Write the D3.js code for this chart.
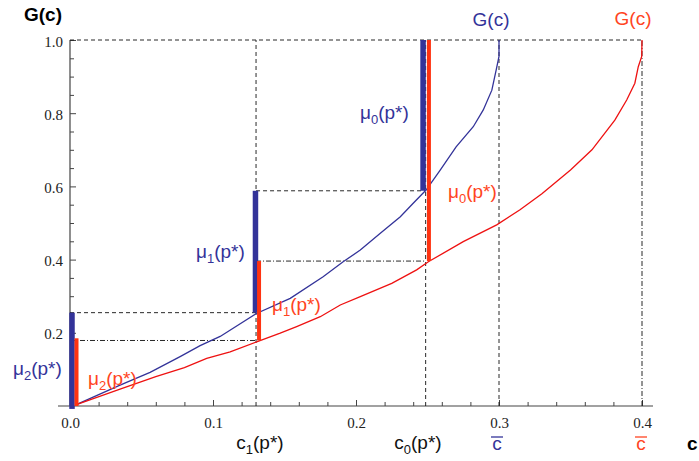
<!DOCTYPE html>
<html>
<head>
<meta charset="utf-8">
<script src="https://cdn.jsdelivr.net/npm/d3@7"></script>
<style>
  body { margin: 0; background: #fff; }
  .lbl { font-family: "Liberation Sans", Arial, sans-serif; font-size: 19px; }
  svg g.ax text { font-family: "Liberation Serif", "Times New Roman", "DejaVu Serif", serif !important; font-size: 15px; }
</style>
</head>
<body>
<script>
var width = 699,
  height = 461;

// axis ticks
var xMajor = [0, 0.1, 0.2, 0.3, 0.4];
var xMinor = [0.02, 0.04, 0.06, 0.08, 0.12, 0.14, 0.16, 0.18, 0.22, 0.24, 0.26, 0.28, 0.32, 0.34, 0.36, 0.38];
var yMajor = [0.2, 0.4, 0.6, 0.8, 1.0];
var yMinor = [0.05, 0.1, 0.15, 0.25, 0.3, 0.35, 0.45, 0.5, 0.55, 0.65, 0.7, 0.75, 0.85, 0.9, 0.95];

// G(c), blue distribution
var blueC = [0.004, 0.035, 0.056, 0.077, 0.091, 0.105, 0.13, 0.154, 0.177, 0.191, 0.203, 0.217, 0.231, 0.240, 0.249, 0.259, 0.270, 0.282, 0.289, 0.295, 0.298, 0.300, 0.300];
var blueG = [0.003, 0.057, 0.092, 0.135, 0.165, 0.19, 0.252, 0.294, 0.353, 0.394, 0.426, 0.472, 0.517, 0.554, 0.59, 0.645, 0.708, 0.763, 0.809, 0.863, 0.918, 0.955, 1.0];

// G(c), red distribution
var redC = [0.004, 0.035, 0.06, 0.08, 0.0956, 0.112, 0.131, 0.147, 0.1585, 0.175, 0.189, 0.203, 0.225, 0.2424, 0.2506, 0.275, 0.2984, 0.3147, 0.33, 0.35, 0.365, 0.381, 0.3893, 0.395, 0.3974, 0.3998, 0.4];
var redG = [0.003, 0.046, 0.08, 0.105, 0.13, 0.148, 0.176, 0.199, 0.217, 0.244, 0.276, 0.299, 0.335, 0.372, 0.394, 0.449, 0.495, 0.536, 0.58, 0.645, 0.70, 0.781, 0.836, 0.882, 0.927, 0.955, 1.0];

// mass bars mu_2, mu_1, mu_0
var blueBarC = [0.0014, 0.1297, 0.2469];
var blueBarLo = [-0.008, 0.255, 0.588];
var blueBarHi = [0.255, 0.588, 1.0];
var redBarC = [0.00455, 0.1322, 0.251];
var redBarLo = [0, 0.179, 0.396];
var redBarHi = [0.185, 0.396, 1.0];

var c1 = 0.1301, c0 = 0.2487, cBarBlue = 0.3, cBarRed = 0.4;

var blue = "#333399", red = "#ee1111", redBar = "#ff3311", redText = "#ff4422";

var x = d3.scaleLinear().domain([0, 0.4]).range([70, 642]);
var y = d3.scaleLinear().domain([0, 1]).range([406, 40]);

var svg = d3.select("body").append("svg")
  .attr("width", width)
  .attr("height", height);

// axes, ticks pointing inward
svg.append("line")
  .attr("x1", x(-0.0084)).attr("x2", x(0.4077))
  .attr("y1", y(0)).attr("y2", y(0))
  .attr("stroke", "#444").attr("stroke-width", 1.2);
svg.append("line")
  .attr("x1", x(0)).attr("x2", x(0))
  .attr("y1", y(0)).attr("y2", y(1))
  .attr("stroke", "#444").attr("stroke-width", 1.2);

var xAxis = svg.append("g").attr("transform", "translate(0," + y(0) + ")")
  .call(d3.axisBottom(x).tickValues(xMajor).tickSize(-6).tickPadding(15).tickFormat(d3.format(".1f")));
var xAxisMinor = svg.append("g").attr("transform", "translate(0," + y(0) + ")")
  .call(d3.axisBottom(x).tickValues(xMinor).tickSize(-4).tickFormat(""));
var yAxis = svg.append("g").attr("transform", "translate(" + x(0) + ",0)")
  .call(d3.axisLeft(y).tickValues(yMajor).tickSize(-6).tickPadding(7).tickFormat(d3.format(".1f")));
var yAxisMinor = svg.append("g").attr("transform", "translate(" + x(0) + ",0)")
  .call(d3.axisLeft(y).tickValues(yMinor).tickSize(-4).tickFormat(""));

[xAxis, xAxisMinor, yAxis, yAxisMinor].forEach(function(a) {
  a.classed("ax", true)
    .attr("font-family", "Liberation Serif")
    .attr("font-size", 15);
  a.select(".domain").remove();
  a.selectAll(".tick line").attr("stroke", "#444").attr("stroke-width", 1);
  a.selectAll(".tick text").attr("fill", "#222");
});
xAxis.selectAll(".tick text").attr("dy", "0.45em");
yAxis.selectAll(".tick text").attr("dy", "0.4em");

// guide lines
var dashed = "4,3", dashDot = "5,2,1,2";
var guides = [
  { x1: 0, y1: 1, x2: 0.4, y2: 1, dash: dashed },
  { x1: cBarBlue, y1: 0, x2: cBarBlue, y2: 1, dash: dashed },
  { x1: cBarRed, y1: 0, x2: cBarRed, y2: 1, dash: dashDot },
  { x1: c1, y1: 0, x2: c1, y2: 1, dash: dashed },
  { x1: c0, y1: 0, x2: c0, y2: 1, dash: dashed },
  { x1: 0, y1: blueBarHi[0], x2: c1, y2: blueBarHi[0], dash: dashed },
  { x1: 0, y1: redBarLo[1], x2: c1, y2: redBarLo[1], dash: dashDot },
  { x1: c1, y1: blueBarHi[1], x2: c0, y2: blueBarHi[1], dash: dashed },
  { x1: c1, y1: redBarHi[1], x2: c0, y2: redBarHi[1], dash: dashDot }
];
svg.append("g").selectAll("line").data(guides).enter().append("line")
  .attr("x1", function(d) { return x(d.x1); })
  .attr("x2", function(d) { return x(d.x2); })
  .attr("y1", function(d) { return y(d.y1); })
  .attr("y2", function(d) { return y(d.y2); })
  .attr("stroke", "#111")
  .attr("stroke-width", 0.9)
  .attr("stroke-dasharray", function(d) { return d.dash; });

// curves
var line = d3.line().x(function(d) { return x(d[0]); }).y(function(d) { return y(d[1]); });
svg.append("path").datum(d3.zip(blueC, blueG))
  .attr("d", line).attr("fill", "none").attr("stroke", blue).attr("stroke-width", 1.3);
svg.append("path").datum(d3.zip(redC, redG))
  .attr("d", line).attr("fill", "none").attr("stroke", red).attr("stroke-width", 1.3);

// bars
function bars(cs, lo, hi, color, w) {
  svg.append("g").selectAll("line").data(d3.range(cs.length)).enter().append("line")
    .attr("x1", function(i) { return x(cs[i]); })
    .attr("x2", function(i) { return x(cs[i]); })
    .attr("y1", function(i) { return y(lo[i]); })
    .attr("y2", function(i) { return y(hi[i]); })
    .attr("stroke", color)
    .attr("stroke-width", w);
}
bars(blueBarC, blueBarLo, blueBarHi, blue, 5.5);
bars(redBarC, redBarLo, redBarHi, redBar, 4);

// labels
function mu(px, py, sub, color) {
  var t = svg.append("text").attr("class", "lbl").attr("x", px).attr("y", py).attr("fill", color);
  t.append("tspan").text("\u03bc");
  t.append("tspan").attr("font-size", "13px").attr("dy", 5).text(sub);
  t.append("tspan").attr("dy", -5).text("(p*)");
}
mu(13, 375, "2", blue);
mu(88, 385, "2", redText);
mu(196, 258, "1", blue);
mu(272, 311, "1", redText);
mu(360, 119, "0", blue);
mu(448, 198, "0", redText);

function cp(cx, sub) {
  var t = svg.append("text").attr("class", "lbl").attr("x", cx).attr("y", 449)
    .attr("text-anchor", "middle").attr("fill", "#111");
  t.append("tspan").text("c");
  t.append("tspan").attr("font-size", "13px").attr("dy", 5).text(sub);
  t.append("tspan").attr("dy", -5).text("(p*)");
}
cp(260, "1");
cp(418, "0");

function cbar(cx, color) {
  svg.append("text").attr("class", "lbl").attr("x", cx).attr("y", 450)
    .attr("text-anchor", "middle").attr("fill", color).text("c");
  svg.append("line").attr("x1", cx - 6).attr("x2", cx + 6).attr("y1", 437).attr("y2", 437)
    .attr("stroke", color).attr("stroke-width", 1.3);
}
cbar(497, blue);
cbar(641, redText);

svg.append("text").attr("class", "lbl").attr("x", 491).attr("y", 26)
  .attr("text-anchor", "middle").attr("fill", blue).text("G(c)");
svg.append("text").attr("class", "lbl").attr("x", 633).attr("y", 25)
  .attr("text-anchor", "middle").attr("fill", redText).text("G(c)");

svg.append("text").attr("class", "lbl").attr("x", 24).attr("y", 21)
  .attr("font-weight", "bold").attr("fill", "#000").text("G(c)");
svg.append("text").attr("class", "lbl").attr("x", 687).attr("y", 450)
  .attr("font-weight", "bold").attr("fill", "#000").text("c");
</script>
</body>
</html>
